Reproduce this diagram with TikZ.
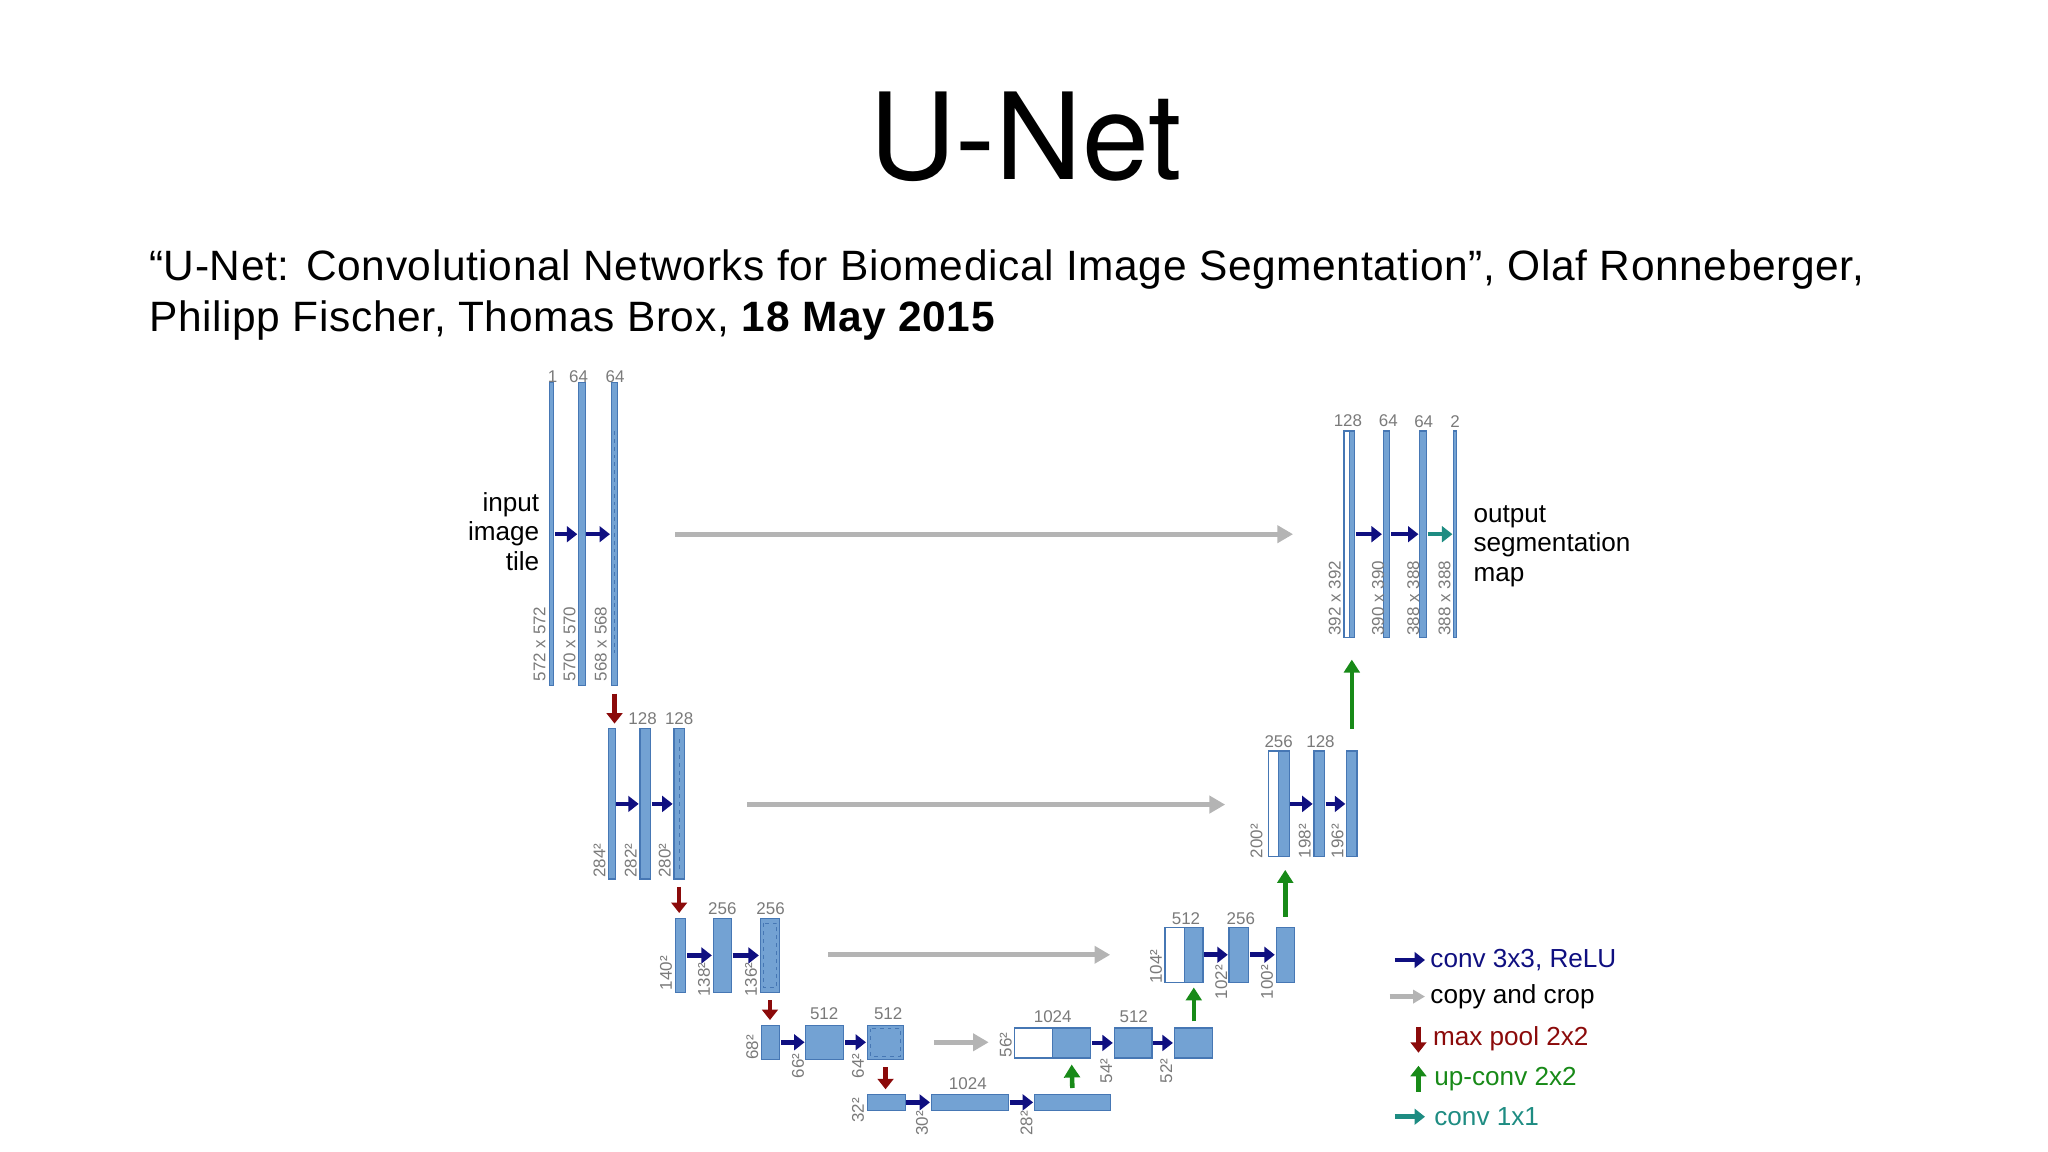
\documentclass[tikz,border=0pt]{standalone}
\usepackage{fontspec}
\setmainfont{Liberation Sans}
\newfontfamily\titlefont{TeX Gyre Heros}
\newfontfamily\subfont[LetterSpace=1.5]{Liberation Sans}
\usetikzlibrary{arrows.meta}
\definecolor{bfill}{HTML}{73A2D3}
\definecolor{bdraw}{HTML}{4677B4}
\definecolor{navy}{HTML}{0F0F80}
\definecolor{cgray}{HTML}{B4B4B4}
\definecolor{pred}{HTML}{8B0A0A}
\definecolor{ugreen}{HTML}{188A18}
\definecolor{cteal}{HTML}{1E8C82}
\definecolor{lgray}{HTML}{7A7A7A}
\tikzset{
 barbox/.style={draw=bdraw,fill=bfill,line width=0.9pt,inner sep=0pt,outer sep=0pt},
 wbox/.style={barbox,fill=white},
 conv/.style={navy,line width=3.5pt,-{Triangle[length=8pt,width=12pt]},shorten <=1pt,shorten >=1pt},
 convb/.style={conv,cteal},
 copyar/.style={cgray,line width=4pt,-{Triangle[length=12pt,width=13pt]}},
 pool/.style={pred,line width=3.5pt,-{Triangle[length=8pt,width=12pt]},shorten <=6pt,shorten >=4pt},
 upc/.style={ugreen,line width=3.5pt,-{Triangle[length=10pt,width=12pt]}},
 num/.style={font=\fontsize{13}{13}\selectfont,text=lgray,inner sep=0pt},
 side/.style={num,rotate=90},
 big/.style={font=\fontsize{20}{22.5}\selectfont,inner sep=0pt},
}
\newcommand\ub[6][barbox]{\node[#1,minimum width={#4pt-#3pt},minimum height={#6pt-#5pt}] (#2) at ({(#3+#4)/2},{(#5+#6)/2}) {};}
\begin{document}
\begin{tikzpicture}[x=1pt,y=-1pt]
\useasboundingbox (0,0) rectangle (1568,882);
\node[font=\titlefont\fontsize{92}{92}\selectfont] (title) at (785,105) {U-Net};
\node[font=\subfont\fontsize{32.5}{39}\selectfont,anchor=west,align=left,inner sep=0pt] (sub) at (114,226) {“U-Net: Convolutional Networks for Biomedical Image Segmentation”, Olaf Ronneberger,\\Philipp Fischer, Thomas Brox, \textbf{18 May 2015}};
% level 1
\ub{a1}{421}{424}{293}{525}\ub{a2}{443}{448}{293}{525}\ub{a3}{468}{473}{293}{525}
\draw[bdraw,dashed,line width=0.6pt] (470.5,330) -- (470.5,500);
\node[num] (na1) at (423,288) {1};\node[num] (na2) at (443,288) {64};\node[num] (na3) at (471,288) {64};
\node[side] (sa1) at (413,493) {572 x 572};\node[side] (sa2) at (436,493) {570 x 570};\node[side] (sa3) at (460,493) {568 x 568};
\draw[conv] (a1) -- (a2);\draw[conv] (a2) -- (a3);
\node[big,align=right,anchor=east] (inp) at (413,407) {input\\image\\tile};
\coordinate (c1s) at (517,409);\coordinate (c1e) at (990,409);\draw[copyar] (c1s) -- (c1e);
% level 2
\ub{b1}{466}{471}{558}{673}\ub{b2}{490}{498}{558}{673}\ub{b3}{516}{524}{558}{673}
\draw[bdraw,dashed,line width=0.6pt] (520,566) -- (520,665);
\node[num] (nb2) at (492,550) {128};\node[num] (nb3) at (520,550) {128};
\node[side] (sb1) at (459,659) {284²};\node[side] (sb2) at (483,659) {282²};\node[side] (sb3) at (509,659) {280²};
\draw[conv] (b1) -- (b2);\draw[conv] (b2) -- (b3);
\draw[pool] (a3.south) -- (a3.south|-b1.north);
\coordinate (c2s) at (572,616);\coordinate (c2e) at (938,616);\draw[copyar] (c2s) -- (c2e);
% level 3
\ub{d1}{517}{525}{703}{760}\ub{d2}{546}{560}{703}{760}\ub{d3}{582}{597}{703}{760}
\draw[bdraw,dashed,line width=0.6pt] (584.5,707) rectangle (594.5,756);
\node[num] (nd2) at (553,696) {256};\node[num] (nd3) at (590,696) {256};
\node[side] (sd1) at (510,745) {140²};\node[side] (sd2) at (539,750) {138²};\node[side] (sd3) at (575,750) {136²};
\draw[conv] (d1) -- (d2);\draw[conv] (d2) -- (d3);
\draw[pool] (b3.south) -- (b3.south|-d1.north);
\coordinate (c3s) at (634,731);\coordinate (c3e) at (850,731);\draw[copyar] (c3s) -- (c3e);
% level 4
\ub{e1}{583}{597}{785}{811}\ub{e2}{617}{646}{785}{811}\ub{e3}{664}{692}{785}{811}
\draw[bdraw,dashed,line width=0.6pt] (666.5,787.5) rectangle (689.5,808.5);
\node[num] (ne2) at (631,776) {512};\node[num] (ne3) at (680,776) {512};
\node[side] (se1) at (576,802) {68²};\node[side] (se2) at (611,816) {66²};\node[side] (se3) at (657,816) {64²};
\draw[conv] (e1) -- (e2);\draw[conv] (e2) -- (e3);
\draw[pool] (d3.south) -- (d3.south|-e1.north);
\coordinate (c4s) at (715,798);\coordinate (c4e) at (757,798);\draw[copyar] (c4s) -- (c4e);
% level 5
\ub{f1}{664}{693}{838}{850}\ub{f2}{713}{772}{838}{850}\ub{f3}{792}{850}{838}{850}
\node[num] (nf2) at (741,830) {1024};
\node[side] (sf1) at (657,850) {32²};\node[side] (sf2) at (706,860) {30²};\node[side] (sf3) at (786,860) {28²};
\draw[conv] (f1) -- (f2);\draw[conv] (f2) -- (f3);
\draw[pool] (e3.south) -- (e3.south|-f1.north);
% up level 4
\ub[wbox]{g0}{777}{806}{787}{810}\ub{g1}{806}{835}{787}{810}\ub{g2}{853}{882}{787}{810}\ub{g3}{899}{928}{787}{810}
\node[num] (ng1) at (806,778) {1024};\node[num] (ng2) at (868,778) {512};
\node[side] (sg0) at (770,800) {56²};\node[side] (sg2) at (847,820) {54²};\node[side] (sg3) at (893,820) {52²};
\draw[conv] (g1) -- (g2);\draw[conv] (g2) -- (g3);
\coordinate (u5) at (821,833);\draw[upc] (u5) -- (g1.south|-0,815);
% up level 3
\ub[wbox]{h0}{892}{907}{710}{752}\ub{h1}{907}{921}{710}{752}\ub{h2}{941}{956}{710}{752}\ub{h3}{977}{991}{710}{752}
\node[num] (nh1) at (908,703) {512};\node[num] (nh2) at (950,703) {256};
\node[side] (sh0) at (885,740) {104²};\node[side] (sh2) at (935,752) {102²};\node[side] (sh3) at (970,752) {100²};
\draw[conv] (h1) -- (h2);\draw[conv] (h2) -- (h3);
\draw[upc,shorten <=5pt,shorten >=4pt] (g3.north-|914,0) -- (914,752);
% up level 2
\ub[wbox]{i0}{971}{979}{575}{656}\ub{i1}{979}{987}{575}{656}\ub{i2}{1006}{1014}{575}{656}\ub{i3}{1031}{1039}{575}{656}
\node[num] (ni1) at (979,568) {256};\node[num] (ni2) at (1011,568) {128};
\node[side] (si0) at (962,644) {200²};\node[side] (si2) at (999,644) {198²};\node[side] (si3) at (1024,644) {196²};
\draw[conv] (i1) -- (i2);\draw[conv] (i2) -- (i3);
\draw[upc,shorten <=8pt,shorten >=10pt] (h3.north) -- (h3.north|-i1.south);
% up level 1
\ub[wbox]{j0}{1029}{1033}{330}{488}\ub{j1}{1033}{1037}{330}{488}\ub{j2}{1059}{1064}{330}{488}\ub{j3}{1087}{1092}{330}{488}\ub{j4}{1113}{1115}{330}{488}
\node[num] (nj1) at (1032,322) {128};\node[num] (nj2) at (1063,322) {64};\node[num] (nj3) at (1090,323) {64};\node[num] (nj4) at (1114,323) {2};
\node[side] (sj0) at (1022,458) {392 x 392};\node[side] (sj2) at (1055,458) {390 x 390};\node[side] (sj3) at (1082,458) {388 x 388};\node[side] (sj4) at (1106,458) {388 x 388};
\draw[conv] (j1) -- (j2);\draw[conv] (j2) -- (j3);\draw[convb] (j3) -- (j4);
\draw[upc,shorten <=17pt,shorten >=17pt] (i3.north) -- (i3.north|-j1.south);
\node[big,align=left,anchor=west] (outp) at (1128,418) {output\\segmentation\\map};
% legend
\coordinate (l1a) at (1068,735);\coordinate (l1b) at (1091,735);\draw[conv,shorten <=0pt,shorten >=0pt] (l1a) -- (l1b);
\node[big,anchor=west,text=navy] (t1) at (1095,735) {conv 3x3, ReLU};
\coordinate (l2a) at (1064,763);\coordinate (l2b) at (1091,763);\draw[copyar,line width=3.5pt,-{Triangle[length=9pt,width=10pt]}] (l2a) -- (l2b);
\node[big,anchor=west] (t2) at (1095,763) {copy and crop};
\coordinate (l3a) at (1086,786);\coordinate (l3b) at (1086,806);\draw[pool,shorten <=0pt,shorten >=0pt] (l3a) -- (l3b);
\node[big,anchor=west,text=pred] (t3) at (1097,795) {max pool 2x2};
\coordinate (l4a) at (1086,836);\coordinate (l4b) at (1086,816);\draw[upc,line width=3.5pt,-{Triangle[length=8pt,width=12pt]}] (l4a) -- (l4b);
\node[big,anchor=west,text=ugreen] (t4) at (1098,826) {up-conv 2x2};
\coordinate (l5a) at (1068,855);\coordinate (l5b) at (1091,855);\draw[convb,shorten <=0pt,shorten >=0pt] (l5a) -- (l5b);
\node[big,anchor=west,text=cteal] (t5) at (1098,855) {conv 1x1};
\end{tikzpicture}
\end{document}
